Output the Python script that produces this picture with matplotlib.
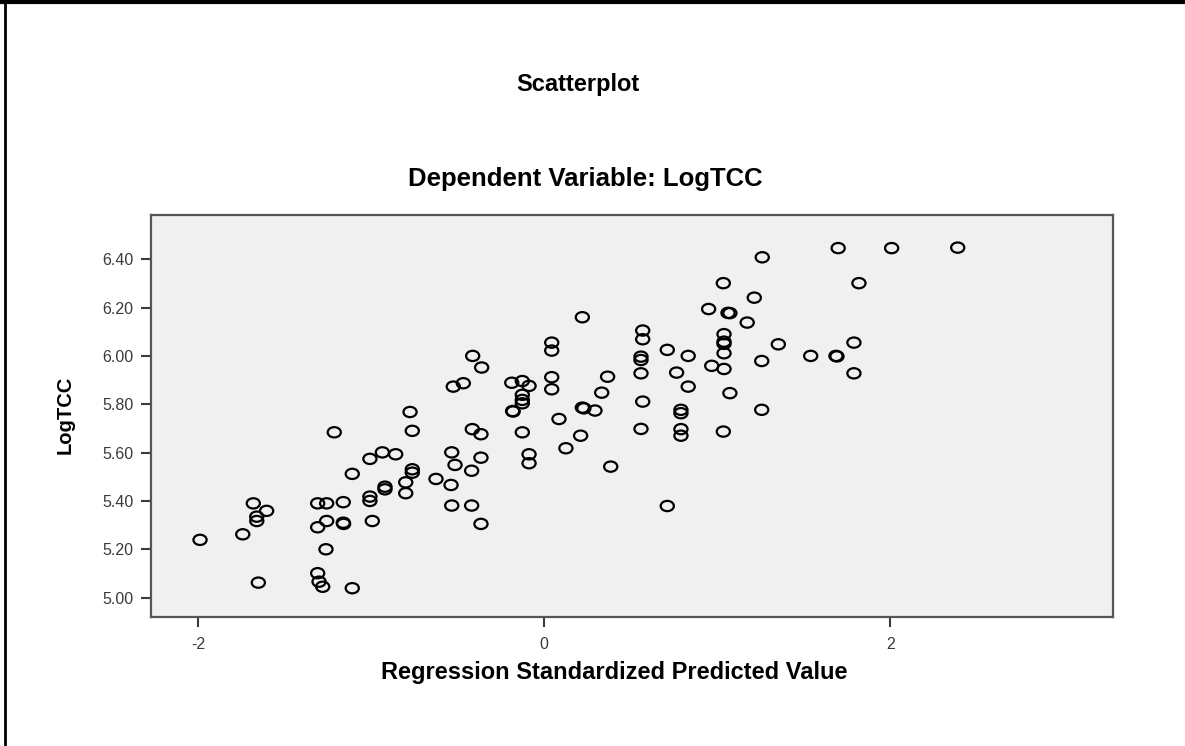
import numpy as np
import matplotlib
matplotlib.use('Agg')
import matplotlib.pyplot as plt
from matplotlib.path import Path
from matplotlib.lines import Line2D

plt.rcParams['font.family'] = ['Liberation Sans', 'DejaVu Sans']

# Regression standardized predicted value (x) and LogTCC (y)
pred = [-1.990, -1.743, -1.682, -1.605, -1.662, -1.662, -1.653, -1.214, -1.310, -1.258,
        -1.162, -1.258, -1.310, -1.162, -1.160, -1.262, -1.310, -1.302, -1.281, -1.110,
        -1.110, -1.008, -0.936, -0.859, -1.008, -1.008, -0.994, -0.921, -0.921, -0.801,
        -0.801, -0.776, -0.763, -0.763, -0.763, -0.626, -0.535, -0.516, -0.539, -0.535,
        -0.526, -0.468, -0.414, -0.362, -0.416, -0.366, -0.366, -0.420, -0.420, -0.366,
        -0.188, -0.127, -0.088, -0.127, -0.127, -0.127, -0.183, -0.180, -0.127, -0.088,
        -0.088, 0.043, 0.043, 0.043, 0.043, 0.085, 0.125, 0.210, 0.220, 0.220,
        0.229, 0.293, 0.332, 0.366, 0.384, 0.569, 0.569, 0.559, 0.559, 0.559,
        0.569, 0.559, 0.711, 0.711, 0.765, 0.832, 0.832, 0.790, 0.790, 0.790,
        0.790, 0.950, 0.968, 1.035, 1.073, 1.062, 1.039, 1.039, 1.039, 1.039,
        1.039, 1.073, 1.035, 1.173, 1.214, 1.260, 1.257, 1.257, 1.353, 1.699,
        2.008, 2.390, 1.819, 1.540, 1.686, 1.692, 1.790, 1.790]
log_tcc = [5.239, 5.262, 5.390, 5.359, 5.335, 5.317, 5.062, 5.684, 5.390, 5.390,
           5.395, 5.317, 5.291, 5.310, 5.305, 5.200, 5.101, 5.066, 5.045, 5.039,
           5.512, 5.574, 5.601, 5.593, 5.418, 5.400, 5.317, 5.459, 5.448, 5.477,
           5.432, 5.768, 5.690, 5.531, 5.517, 5.491, 5.601, 5.549, 5.466, 5.381,
           5.873, 5.887, 6.000, 5.952, 5.697, 5.676, 5.579, 5.525, 5.381, 5.305,
           5.889, 5.896, 5.876, 5.839, 5.818, 5.804, 5.772, 5.770, 5.684, 5.593,
           5.556, 6.055, 6.022, 5.912, 5.862, 5.739, 5.618, 5.670, 6.160, 5.786,
           5.783, 5.774, 5.848, 5.914, 5.542, 6.105, 6.069, 5.997, 5.983, 5.928,
           5.811, 5.698, 6.025, 5.379, 5.931, 6.000, 5.873, 5.777, 5.763, 5.697,
           5.670, 6.194, 5.959, 6.301, 6.177, 6.178, 6.090, 6.059, 6.050, 6.011,
           5.946, 5.846, 5.687, 6.138, 6.241, 6.408, 5.979, 5.777, 6.048, 6.446,
           6.446, 6.448, 6.301, 6.000, 6.000, 5.998, 6.055, 5.928]
x_ticks = [-2, 0, 2]
y_ticks = [5.0, 5.2, 5.4, 5.6, 5.8, 6.0, 6.2, 6.4]

# slightly flattened circle like the SPSS marker
circ = Path.unit_circle()
ellipse = Path(circ.vertices * np.array([1.0, 0.78]), circ.codes)

fig = plt.figure(figsize=(11.85, 7.46), dpi=100)
ax = fig.add_axes([0.1272, 0.1733, 0.8118, 0.5385])
ax.set_facecolor('#f0f0f0')

ax.scatter(pred, log_tcc, s=90, marker=ellipse, facecolors='none',
           edgecolors='black', linewidths=1.6, zorder=3)

ax.set_xlim(-2.275, 3.286)
ax.set_ylim(4.921, 6.583)
ax.set_xticks(x_ticks)
ax.set_xticklabels([str(t) for t in x_ticks])
ax.set_yticks(y_ticks)
ax.set_yticklabels(['%.2f' % t for t in y_ticks])
ax.tick_params(axis='both', colors='#3a3a3a', labelsize=11.5, length=7.5, width=1.5, pad=5)
ax.tick_params(axis='x', pad=7)
for sp in ax.spines.values():
    sp.set_color('#555555')
    sp.set_linewidth(1.6)

fig.text(614 / 1185, 1 - 673 / 746, 'Regression Standardized Predicted Value',
         ha='center', va='center', fontsize=17, fontweight='bold')
fig.text(65 / 1185, 1 - 415 / 746, 'LogTCC', rotation=90, ha='center', va='center',
         fontsize=14.5, fontweight='bold')
fig.text(578 / 1185, 1 - 84 / 746, 'Scatterplot', ha='center', va='center',
         fontsize=17, fontweight='bold')
fig.text(585 / 1185, 1 - 179 / 746, 'Dependent Variable: LogTCC', ha='center', va='center',
         fontsize=18.5, fontweight='bold')

# outer frame (left and top edges)
fig.add_artist(Line2D([5 / 1185, 5 / 1185], [0, 1], color='black', lw=2, transform=fig.transFigure))
fig.add_artist(Line2D([0, 1], [1 - 2 / 746, 1 - 2 / 746], color='black', lw=3, transform=fig.transFigure))

fig.savefig('out.png', dpi=100, facecolor='white')
